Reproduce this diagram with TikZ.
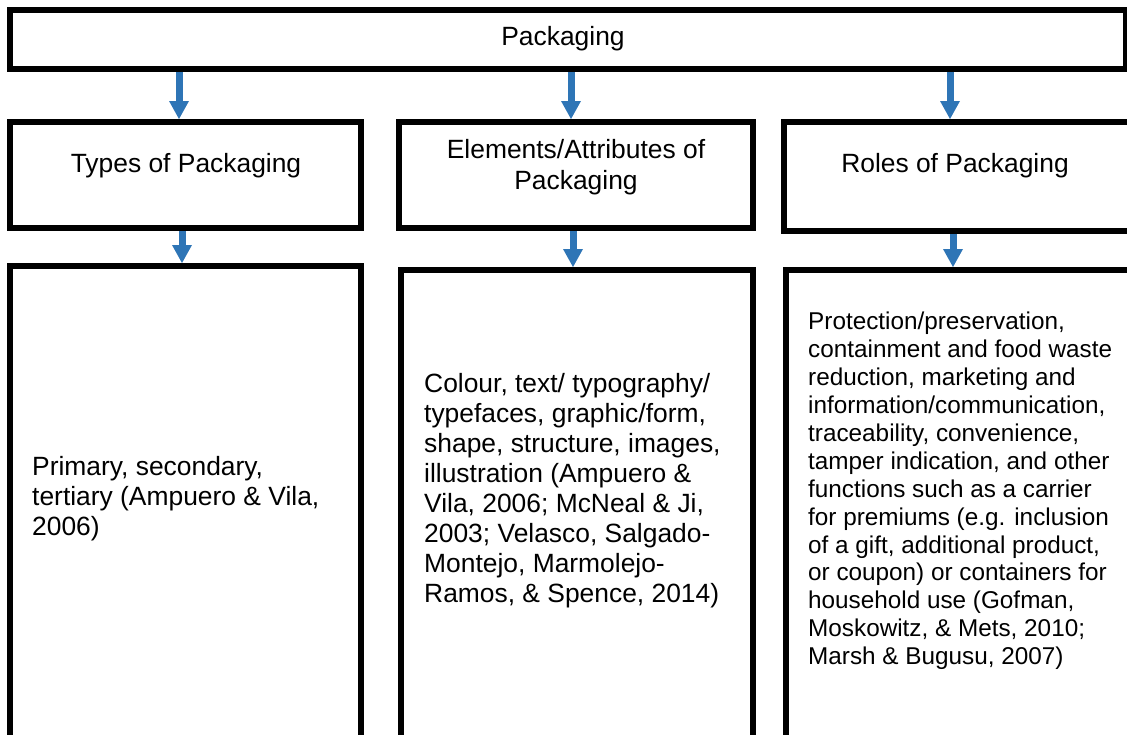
\documentclass[tikz,border=0pt]{standalone}
\usepackage{fontspec}
\setmainfont{Liberation Sans}
\usetikzlibrary{arrows.meta}
\definecolor{arrowblue}{RGB}{46,117,182}
\begin{document}
\begin{tikzpicture}[x=1pt,y=-1pt,
  box/.style={draw=black, line width=6pt, inner sep=0pt, outer sep=3pt},
  head/.style={font=\fontsize{26.4}{31.5}\selectfont, align=center, inner sep=0pt},
  body/.style={font=\fontsize{26.4}{30}\selectfont, align=left, inner sep=0pt, anchor=west},
  smallbody/.style={body, font=\fontsize{24.3}{27.9}\selectfont},
  flow/.style={draw=arrowblue, line width=7pt,
    -{Triangle[width=20pt,length=18pt,line width=0pt]}}]
\useasboundingbox (0,0) rectangle (1127,734);
\clip (0,0) rectangle (1127,734);

% frames
\node[box, minimum width=1116pt, minimum height=59pt] (pk) at (568,39.5) {};
\node[box, minimum width=351pt, minimum height=106pt] (t1) at (185.5,175) {};
\node[box, minimum width=354pt, minimum height=106pt] (t2) at (576,175) {};
\node[box, minimum width=356pt, minimum height=109pt] (t3) at (962,176.5) {};
\node[box, minimum width=351pt, minimum height=494pt] (b1) at (185.5,513) {};
\node[box, minimum width=352pt, minimum height=490pt] (b2) at (577,515) {};
\node[box, minimum width=354pt, minimum height=490pt] (b3) at (963,515) {};

% titles
\node[head] (pkt) at (563,39) {Packaging};
\node[head] (t1t) at (186,166) {Types of Packaging};
\node[head] (t2t) at (576,167) {Elements/Attributes of\\Packaging};
\node[head] (t3t) at (955,166) {Roles of Packaging};

% contents
\node[body] (b1t) at (32,499) {Primary, secondary,\\tertiary (Ampuero \& Vila,\\2006)};
\node[body] (b2t) at (424,491) {Colour, text/ typography/\\typefaces, graphic/form,\\shape, structure, images,\\illustration (Ampuero \&\\Vila, 2006; McNeal \& Ji,\\2003; Velasco, Salgado-\\Montejo, Marmolejo-\\Ramos, \& Spence, 2014)};
\node[smallbody] (b3t) at (808,491) {Protection/preservation,\\containment and food waste\\reduction, marketing and\\information/communication,\\traceability, convenience,\\tamper indication, and other\\functions such as a carrier\\for premiums (e.g. inclusion\\of a gift, additional product,\\or coupon) or containers for\\household use (Gofman,\\Moskowitz, \& Mets, 2010;\\Marsh \& Bugusu, 2007)};

% arrow columns
\coordinate (ax1) at (179,0);
\coordinate (ax2) at (571,0);
\coordinate (ax3) at (950,0);
\coordinate (bx1) at (182,0);
\coordinate (bx2) at (573,0);
\coordinate (bx3) at (953,0);

\draw[flow] (pk.south -| ax1) -- (t1.north -| ax1);
\draw[flow] (pk.south -| ax2) -- (t2.north -| ax2);
\draw[flow] (pk.south -| ax3) -- (t3.north -| ax3);
\draw[flow] (t1.south -| bx1) -- (b1.north -| bx1);
\draw[flow] (t2.south -| bx2) -- (b2.north -| bx2);
\draw[flow] (t3.south -| bx3) -- (b3.north -| bx3);
\end{tikzpicture}
\end{document}
